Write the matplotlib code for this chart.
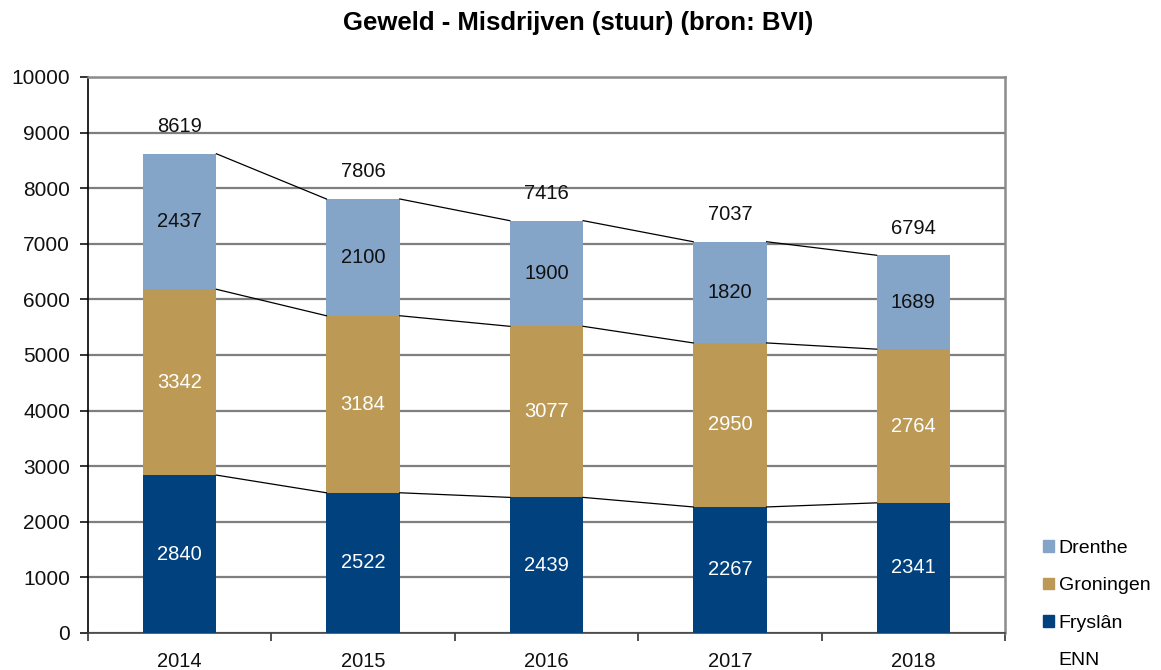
import matplotlib
matplotlib.use("Agg")
import matplotlib.pyplot as plt
from matplotlib.patches import Patch
import numpy as np

plt.rcParams['font.family'] = ['Liberation Sans', 'DejaVu Sans']

years = ['2014', '2015', '2016', '2017', '2018']
fryslan = [2840, 2522, 2439, 2267, 2341]
groningen = [3342, 3184, 3077, 2950, 2764]
drenthe = [2437, 2100, 1900, 1820, 1689]
totals = [8619, 7806, 7416, 7037, 6794]

c_fry = '#00417E'
c_gro = '#BC9A55'
c_dre = '#84A4C8'

fig = plt.figure(figsize=(11.61, 6.70), dpi=100)
ax = fig.add_axes([88/1161, 37/670, (1005-88)/1161, (633-77)/670])

x = np.arange(len(years))
w = 0.4
fr = np.array(fryslan)
gr = np.array(groningen)
dr = np.array(drenthe)

ax.bar(x, fr, w, color=c_fry, zorder=3)
ax.bar(x, gr, w, bottom=fr, color=c_gro, zorder=3)
ax.bar(x, dr, w, bottom=fr + gr, color=c_dre, zorder=3)

# series lines
for level in [fr, fr + gr, fr + gr + dr]:
    for i in range(len(x) - 1):
        ax.plot([x[i] + w/2, x[i+1] - w/2], [level[i], level[i+1]],
                color='black', lw=0.9, zorder=4)

fs = 14.5
for i in range(len(x)):
    ax.text(x[i], fr[i]/2, str(fryslan[i]), ha='center', va='center', color='white', fontsize=fs, zorder=5)
    ax.text(x[i], fr[i] + gr[i]/2, str(groningen[i]), ha='center', va='center', color='white', fontsize=fs, zorder=5)
    ax.text(x[i], fr[i] + gr[i] + dr[i]/2, str(drenthe[i]), ha='center', va='center', color='#111111', fontsize=fs, zorder=5)
    ax.annotate(str(totals[i]), (x[i], totals[i]), xytext=(0, 19.5), textcoords='offset points',
                ha='center', va='center', fontsize=fs, color='#111111', zorder=5)

ax.set_xlim(-0.5, len(x) - 0.5)
ax.set_ylim(0, 10000)
ax.set_yticks(np.arange(0, 10001, 1000))
ax.yaxis.grid(True, color='#7f7f7f', lw=1.6, zorder=1)
ax.set_axisbelow(True)

ax.set_xticks(x)
ax.set_xticklabels(years)
ax.set_xticks(np.arange(-0.5, len(x), 1.0), minor=True)
ax.tick_params(axis='x', which='major', length=0, pad=14, labelsize=14.5, colors='#111111')
ax.tick_params(axis='x', which='minor', length=6, width=1.2, color='#333333', direction='out')
ax.tick_params(axis='y', length=6, width=1.2, labelsize=15, pad=7, colors='#111111')

ax.spines['left'].set_color('#000000')
ax.spines['left'].set_linewidth(1.2)
ax.spines['bottom'].set_color('#444444')
ax.spines['bottom'].set_linewidth(1.2)
ax.spines['right'].set_color('#8c8c8c')
ax.spines['right'].set_linewidth(1.8)
ax.spines['top'].set_color('#8c8c8c')
ax.spines['top'].set_linewidth(1.8)

fig.text(578/1161, 1 - 23/670, 'Geweld - Misdrijven (stuur) (bron: BVI)', ha='center', va='center',
         fontsize=18.5, fontweight='bold')

handles = [Patch(color=c_dre), Patch(color=c_gro), Patch(color=c_fry), Patch(color='none')]
labels = ['Drenthe', 'Groningen', 'Fryslân', 'ENN']
leg = fig.legend(handles, labels, loc='upper left', bbox_to_anchor=(1043/1161, 1 - 540/670),
                 frameon=False, fontsize=14, handlelength=0.55, handleheight=0.55,
                 handletextpad=0.25, labelspacing=1.05, borderaxespad=0, borderpad=0)

fig.savefig('out.png', dpi=100)
